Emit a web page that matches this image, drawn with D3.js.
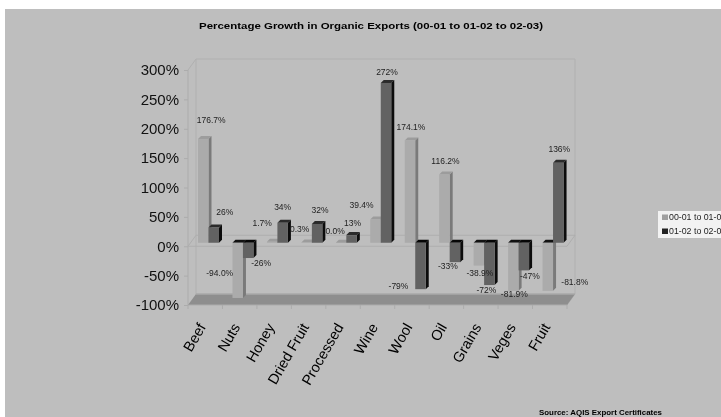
<!DOCTYPE html>
<html>
<head>
<meta charset="utf-8">
<script src="https://cdnjs.cloudflare.com/ajax/libs/d3/7.8.5/d3.min.js"></script>
<style>
  html, body { margin: 0; padding: 0; background: #fff; overflow: hidden; }
  svg { display: block; filter: blur(0.6px); font-family: "Liberation Sans", Arial, sans-serif; }
</style>
</head>
<body>
<script>
const categories = ['Beef', 'Nuts', 'Honey', 'Dried Fruit', 'Processed', 'Wine', 'Wool', 'Oil', 'Grains', 'Veges', 'Fruit'];
const seriesNames = ['00-01 to 01-02', '01-02 to 02-03'];
const growth0 = [176.7, -94.0, 1.7, 0.3, 0.0, 39.4, 174.1, 116.2, -38.9, -81.9, -81.8];
const growth1 = [26, -26, 34, 32, 13, 272, -79, -33, -72, -47, 136];
const labels0 = ['176.7%', '-94.0%', '1.7%', '0.3%', '0.0%', '39.4%', '174.1%', '116.2%', '-38.9%', '-81.9%', '-81.8%'];
const labels1 = ['26%', '-26%', '34%', '32%', '13%', '272%', '-79%', '-33%', '-72%', '-47%', '136%'];
const yTicks = [-100, -50, 0, 50, 100, 150, 200, 250, 300];

// hand placed label offsets from the end of each bar, same as the original
const nudge0 = [[8, -19], [-18, -25], [-10, -19], [-7, -14], [-6, -12], [-14, -15], [1, -13], [1, -13], [1, 7], [1, 3], [27, -9]];
const nudge1 = [[11, -15], [13, 5], [0, -16], [3, -14], [1, -12], [1, -11], [-22, -3], [-7, 4], [-3, 5], [6, 6], [1, -14]];

const width = 721;
const height = 417;
const depthX = 8;
const depthY = 11;
const barDepth = 3;

const svg = d3.select('body').append('svg')
  .attr('width', width)
  .attr('height', height);

svg.append('rect')
  .attr('x', 5).attr('y', 9)
  .attr('width', width).attr('height', height)
  .attr('fill', '#bebebe');

const x = d3.scaleBand().domain(categories).range([188, 567]);
const y = d3.scaleLinear().domain([-100, 300]).range([305, 70]);

const zero = y(0);

// back and side walls
svg.append('path')
  .attr('d', `M188,${y(300)}L${188 + depthX},${y(300) - depthY}H${567 + depthX}V${y(-100) - depthY}L567,${y(-100)}`)
  .attr('fill', 'none').attr('stroke', '#b0b0b0');
svg.append('line')
  .attr('x1', 188).attr('x2', 188)
  .attr('y1', y(300)).attr('y2', y(-100))
  .attr('stroke', '#acacac');
svg.append('line')
  .attr('x1', 196).attr('x2', 196)
  .attr('y1', y(300) - depthY).attr('y2', y(-100) - depthY)
  .attr('stroke', '#b0b0b0');
svg.append('path')
  .attr('d', `M188,${zero}L${188 + depthX},${zero - depthY}H${567 + depthX}L567,${zero}H188`)
  .attr('fill', 'none').attr('stroke', '#aeaeae');

// floor
svg.append('path')
  .attr('d', `M188,${y(-100)}L${188 + depthX},${y(-100) - depthY}H${567 + depthX}L567,${y(-100)}Z`)
  .attr('fill', '#8e8e8e');
svg.append('line')
  .attr('x1', 196).attr('x2', 575)
  .attr('y1', y(-100) - depthY).attr('y2', y(-100) - depthY)
  .attr('stroke', '#a8a8a8').attr('stroke-width', 1.5);

// axes
const yAxis = d3.axisLeft(y).tickValues(yTicks).tickFormat(d => d + '%').tickSize(4).tickPadding(5);
const gy = svg.append('g').attr('transform', 'translate(188,0)').call(yAxis);
gy.select('.domain').remove();
gy.selectAll('line').attr('stroke', '#acacac');
gy.selectAll('text').attr('font-size', 15).attr('fill', '#111');

const xTickPos = categories.map(c => x(c) + x.bandwidth());
svg.append('g').selectAll('line')
  .data([188].concat(xTickPos))
  .enter().append('line')
  .attr('x1', d => d).attr('x2', d => d)
  .attr('y1', y(-100)).attr('y2', y(-100) + 4)
  .attr('stroke', '#acacac');
svg.append('line')
  .attr('x1', 188).attr('x2', 567)
  .attr('y1', y(-100)).attr('y2', y(-100))
  .attr('stroke', '#acacac');

svg.append('g').selectAll('text')
  .data(categories)
  .enter().append('text')
  .attr('transform', d => `translate(${x(d) + x.bandwidth() / 2 + 1},${y(-100) + 22}) rotate(-60)`)
  .attr('text-anchor', 'end')
  .attr('font-size', 14.5)
  .attr('fill', '#000')
  .text(d => d);

// bars
const barW = 10.5;
const baseY = d3.scaleLinear().domain([-100, 300]).range([y(-100) - 3.5, y(300) - 3.5]);
const styles = [
  { front: '#ababab', side: '#7a7a7a', top: '#9c9c9c', negTop: '#111' },
  { front: '#626262', side: '#0c0c0c', top: '#2a2a2a', negTop: '#050505' }
];

function drawBars(values, s, off) {
  const g = svg.append('g');
  values.forEach((v, i) => {
    const left = x(categories[i]) + off;
    const y0 = baseY(0);
    const yv = baseY(v);
    const topY = Math.min(y0, yv);
    const botY = Math.max(y0, yv);
    const st = styles[s];
    g.append('path')
      .attr('d', `M${left + barW},${topY}l${barDepth},${-barDepth}V${botY - barDepth}l${-barDepth},${barDepth}Z`)
      .attr('fill', st.side);
    g.append('path')
      .attr('d', `M${left},${topY}l${barDepth},${-barDepth}h${barW}l${-barDepth},${barDepth}Z`)
      .attr('fill', v < 0 ? st.negTop : st.top);
    g.append('rect')
      .attr('x', left).attr('y', topY)
      .attr('width', barW).attr('height', botY - topY)
      .attr('fill', st.front);
  });
}

drawBars(growth0, 0, 10);
drawBars(growth1, 1, 20.5);

function drawLabels(values, texts, nudge, off) {
  svg.append('g').selectAll('text')
    .data(values)
    .enter().append('text')
    .attr('x', (d, i) => x(categories[i]) + off + barW / 2 + nudge[i][0])
    .attr('y', (d, i) => baseY(d) + nudge[i][1] + 3)
    .attr('text-anchor', 'middle')
    .attr('font-size', 8.5)
    .attr('fill', '#222')
    .text((d, i) => texts[i]);
}

drawLabels(growth0, labels0, nudge0, 10);
drawLabels(growth1, labels1, nudge1, 20.5);

// title and source
svg.append('text')
  .attr('x', 199).attr('y', 29)
  .attr('textLength', 344).attr('lengthAdjust', 'spacingAndGlyphs')
  .attr('font-size', 9.5).attr('font-weight', 'bold').attr('fill', '#000')
  .text('Percentage Growth in Organic Exports (00-01 to 01-02 to 02-03)');

svg.append('text')
  .attr('x', 539).attr('y', 414.5)
  .attr('textLength', 123).attr('lengthAdjust', 'spacingAndGlyphs')
  .attr('font-size', 7.5).attr('font-weight', 'bold').attr('fill', '#000')
  .text('Source:  AQIS Export Certificates');

// legend runs off the right edge
const legend = svg.append('g');
legend.append('rect')
  .attr('x', 658).attr('y', 211)
  .attr('width', 70).attr('height', 27)
  .attr('fill', '#f2f2f2');
seriesNames.forEach((name, i) => {
  legend.append('rect')
    .attr('x', 662).attr('y', 214.5 + i * 14)
    .attr('width', 6).attr('height', 5.5)
    .attr('fill', i === 0 ? '#a0a0a0' : '#222');
  legend.append('text')
    .attr('x', 669).attr('y', 220 + i * 14)
    .attr('font-size', 8.8).attr('fill', '#222')
    .text(name);
});
</script>
</body>
</html>
